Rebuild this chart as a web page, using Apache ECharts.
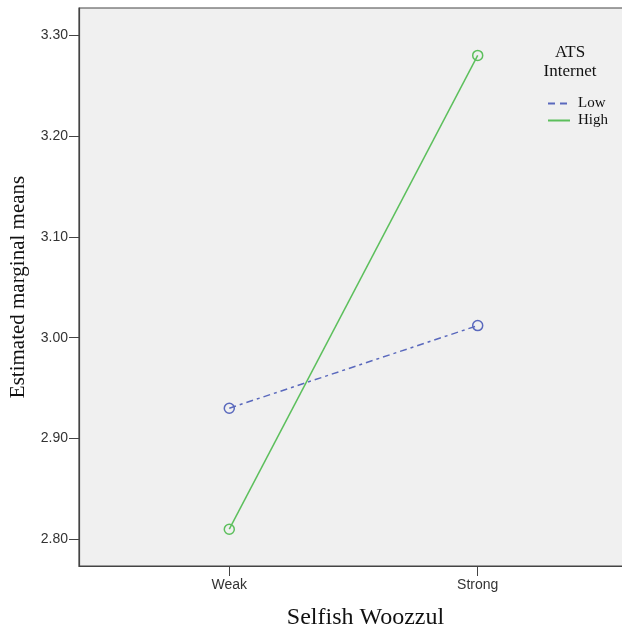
<!DOCTYPE html>
<html>
<head>
<meta charset="utf-8">
<script src="https://cdn.jsdelivr.net/npm/echarts@6/dist/echarts.min.js"></script>
<style>html,body{margin:0;padding:0;background:#fff}#c{width:622px;height:627px}</style>
</head>
<body>
<div id="c"></div>
<script>
var categories = ['Weak', 'Strong'];
var lowValues = [2.930, 3.012];
var highValues = [2.810, 3.280];
var yTicks = [2.8, 2.9, 3.0, 3.1, 3.2, 3.3];
var seriesNames = ['Low', 'High'];

var chart = echarts.init(document.getElementById('c'), null, {renderer: 'canvas'});
function toPts(arr) { return arr.map(function (v, i) { return [i, v]; }); }
var blue = '#5a69bd', green = '#5cbf5c';
var option = {
  animation: false,
  backgroundColor: '#ffffff',
  grid: {
    left: 79, top: 8, width: 549, height: 558, outerBoundsMode: 'none', containLabel: false,
    show: true, backgroundColor: '#f0f0f0', borderColor: '#444', borderWidth: 1.2
  },
  xAxis: {
    type: 'value', min: -0.605, max: 1.605,
    splitLine: {show: false},
    axisLine: {show: true, onZero: false, lineStyle: {color: '#444', width: 1.2}},
    axisTick: {show: true, length: 10, customValues: [0, 1], lineStyle: {color: '#444'}},
    axisLabel: {
      customValues: [0, 1], margin: 12,
      formatter: function (v) { return categories[Math.round(v)]; },
      fontFamily: 'Liberation Sans, Arial, sans-serif', fontSize: 14, color: '#333'
    }
  },
  yAxis: {
    type: 'value', min: 2.7735, max: 3.327,
    splitLine: {show: false},
    axisLine: {show: true, onZero: false, lineStyle: {color: '#444', width: 1.2}},
    axisTick: {show: true, length: 10, customValues: yTicks, lineStyle: {color: '#444'}},
    axisLabel: {
      customValues: yTicks, margin: 11,
      formatter: function (v) { return v.toFixed(2); },
      fontFamily: 'Liberation Sans, Arial, sans-serif', fontSize: 14, color: '#333'
    },
    name: 'Estimated marginal means', nameLocation: 'middle', nameGap: 50,
    nameTextStyle: {fontFamily: 'Liberation Serif, Times New Roman, serif', fontSize: 21, color: '#111'}
  },
  legend: {
    orient: 'vertical', left: 542, top: 91, itemWidth: 22, itemHeight: 14, itemGap: 2,
    data: [
      {name: seriesNames[0], lineStyle: {type: [7, 5]}},
      {name: seriesNames[1]}
    ],
    itemStyle: {opacity: 0},
    textStyle: {fontFamily: 'Liberation Serif, Times New Roman, serif', fontSize: 15, color: '#111', padding: [0, 0, 0, 3]}
  },
  graphic: [
    {type: 'text', x: 570, y: 53, style: {text: 'ATS', textAlign: 'center', textVerticalAlign: 'middle', font: '17px "Liberation Serif", serif', fill: '#111'}},
    {type: 'text', x: 570, y: 72, style: {text: 'Internet', textAlign: 'center', textVerticalAlign: 'middle', font: '17px "Liberation Serif", serif', fill: '#111'}},
    {type: 'text', x: 365.5, y: 618, style: {text: 'Selfish Woozzul', textAlign: 'center', textVerticalAlign: 'middle', font: '24px "Liberation Serif", serif', fill: '#111'}}
  ],
  series: [
    {
      name: seriesNames[0], type: 'line', data: toPts(lowValues),
      symbol: 'circle', symbolSize: 10,
      itemStyle: {color: 'rgba(0,0,0,0)', borderColor: blue, borderWidth: 1.5},
      lineStyle: {color: blue, width: 1.5, type: [7, 4, 3, 4]}
    },
    {
      name: seriesNames[1], type: 'line', data: toPts(highValues),
      symbol: 'circle', symbolSize: 10,
      itemStyle: {color: 'rgba(0,0,0,0)', borderColor: green, borderWidth: 1.5},
      lineStyle: {color: green, width: 1.5, type: 'solid'}
    }
  ]
};
chart.setOption(option);
</script>
</body>
</html>
